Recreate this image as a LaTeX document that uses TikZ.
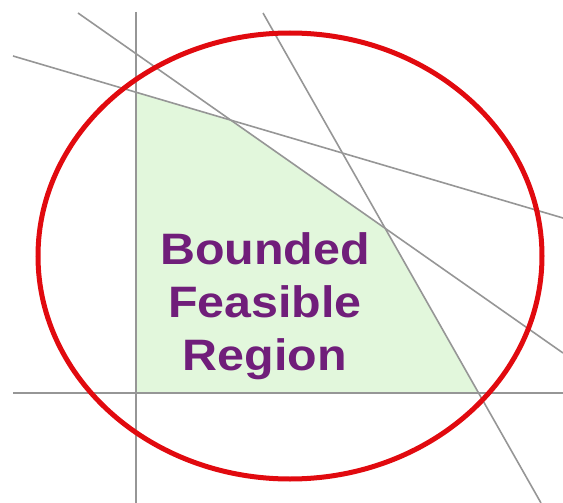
\documentclass[tikz,border=0pt]{standalone}
\usepackage{fontspec}
\setmainfont{Liberation Sans}
\newfontfamily\labfont[FakeStretch=1.1]{Liberation Sans}
\definecolor{lingrey}{RGB}{150,150,150}
\definecolor{ringred}{RGB}{225,10,15}
\definecolor{feasgreen}{RGB}{226,247,220}
\definecolor{labpurple}{RGB}{112,30,122}
\tikzset{
  constraint/.style={color=lingrey,line width=1.6pt},
  axisline/.style={color=lingrey,line width=1.8pt},
  regionlabel/.style={color=labpurple,font=\labfont\fontsize{44}{53}\selectfont\bfseries,align=center}
}
\begin{document}
\begin{tikzpicture}[x=1pt,y=-1pt]
	\useasboundingbox (0,0) rectangle (563,503);
	% end points of the constraint lines
	\coordinate (a1) at (13,56);   \coordinate (a2) at (563,218);
	\coordinate (b1) at (78,13);   \coordinate (b2) at (563,353);
	\coordinate (c1) at (263,13);  \coordinate (c2) at (541,503);
	\coordinate (o) at (136,393);
	% feasible region
	\fill[feasgreen] (o) -- (intersection of o--136,12 and a1--a2)
		-- (intersection of a1--a2 and b1--b2)
		-- (intersection of b1--b2 and c1--c2)
		-- (intersection of c1--c2 and 13,393--563,393) -- cycle;
	\node[regionlabel] (lab) at (265,306) {Bounded\\Feasible\\Region};
	% axes and constraints
	\draw[axisline] (136,12) -- (136,503);
	\draw[axisline] (13,393) -- (563,393);
	\draw[constraint] (a1) -- (a2);
	\draw[constraint] (b1) -- (b2);
	\draw[constraint] (c1) -- (c2);
	\draw[color=ringred,line width=5pt] (290,256) ellipse (252 and 223);
\end{tikzpicture}
\end{document}
